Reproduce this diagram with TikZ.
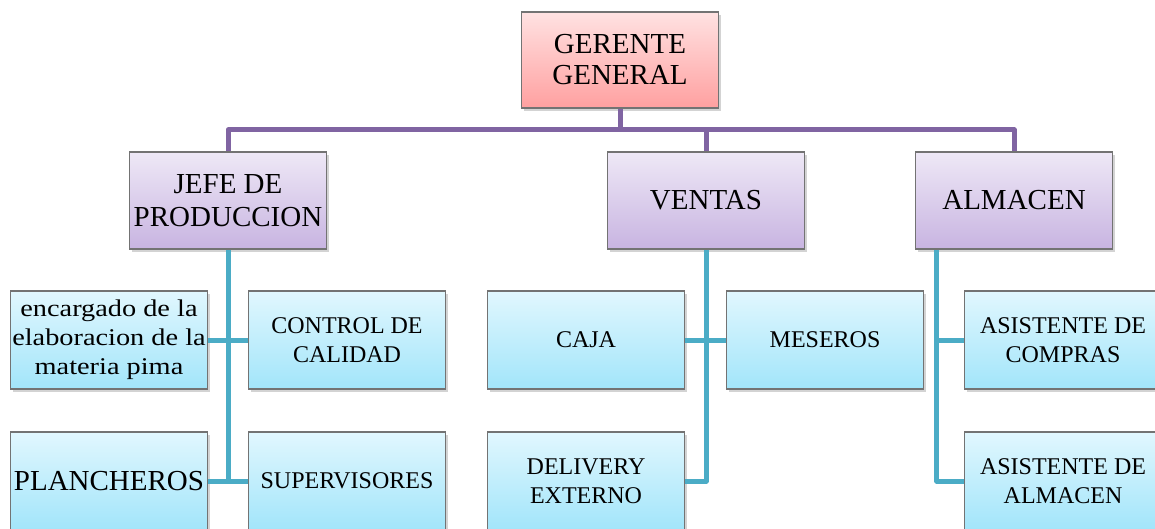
\documentclass[tikz,border=0pt]{standalone}
\usepackage{fontspec}
\setmainfont{Liberation Serif}
\newfontfamily\widefont[FakeStretch=1.18]{Liberation Serif}
\usetikzlibrary{shadows}
\definecolor{pinktop}{HTML}{FFE2E2}
\definecolor{pinkbot}{HTML}{FFA0A0}
\definecolor{liltop}{HTML}{EEE8F6}
\definecolor{lilbot}{HTML}{C8B4E1}
\definecolor{bluetop}{HTML}{E1F7FE}
\definecolor{bluebot}{HTML}{A2E5FA}
\definecolor{purpleline}{HTML}{8064A2}
\definecolor{aqualine}{HTML}{4BACC6}
\begin{document}
\begin{tikzpicture}[x=1pt,y=-1pt,
	box/.style={draw=gray!90!black,line width=1.1pt,minimum width=197pt,inner sep=0pt,align=center,
		drop shadow={shadow xshift=2pt,shadow yshift=-3pt,opacity=0.35}},
	topbox/.style={box,minimum height=96pt,top color=pinktop,bottom color=pinkbot,font=\fontsize{29}{31}\selectfont},
	midbox/.style={box,minimum height=97pt,top color=liltop,bottom color=lilbot,font=\fontsize{29}{33}\selectfont},
	lowbox/.style={box,minimum height=98pt,top color=bluetop,bottom color=bluebot,font=\fontsize{24}{29}\selectfont},
	bossline/.style={purpleline,line width=5pt,line join=round},
	staffline/.style={aqualine,line width=5pt,line join=round}]
	\useasboundingbox (0,0) rectangle (1155,529);
	% top
	\node[topbox] (gg) at (620,60) {GERENTE\\GENERAL};
	% heads
	\node[midbox] (jefe) at (228,200.5) {JEFE DE\\PRODUCCION};
	\node[midbox] (ventas) at (706,200.5) {VENTAS};
	\node[midbox] (almacen) at (1014,200.5) {ALMACEN};
	% staff
	\node[lowbox] (enc) at (109,340) {\widefont encargado de la\\\widefont elaboracion de la\\\widefont materia pima};
	\node[lowbox] (control) at (347,340) {CONTROL DE\\CALIDAD};
	\node[lowbox,font=\fontsize{29}{33}\selectfont] (plan) at (109,481) {PLANCHEROS};
	\node[lowbox] (sup) at (347,481) {SUPERVISORES};
	\node[lowbox] (caja) at (586,340) {CAJA};
	\node[lowbox] (meseros) at (825,340) {MESEROS};
	\node[lowbox] (delivery) at (586,481) {DELIVERY\\EXTERNO};
	\node[lowbox] (compras) at (1063,340) {ASISTENTE DE\\COMPRAS};
	\node[lowbox] (asalm) at (1063,481) {ASISTENTE DE\\ALMACEN};
	% purple bus
	\coordinate (bus) at (0,130);
	\draw[bossline] (gg.south) -- (gg.south |- bus);
	\draw[bossline] (jefe.north) -- (jefe.north |- bus) -- (almacen.north |- bus) -- (almacen.north);
	\draw[bossline] (ventas.north) -- (ventas.north |- bus);
	% blue lines
	\draw[staffline] (jefe.south) -- (jefe.south |- plan.east);
	\draw[staffline] (enc.east) -- (control.west);
	\draw[staffline] (plan.east) -- (sup.west);
	\draw[staffline] (ventas.south) -- (ventas.south |- delivery.east) -- (delivery.east);
	\draw[staffline] (caja.east) -- (meseros.west);
	\coordinate (altap) at ([xshift=22pt]almacen.south west);
	\draw[staffline] (altap) -- (altap |- asalm.west) -- (asalm.west);
	\draw[staffline] (altap |- compras.west) -- (compras.west);
\end{tikzpicture}
\end{document}
